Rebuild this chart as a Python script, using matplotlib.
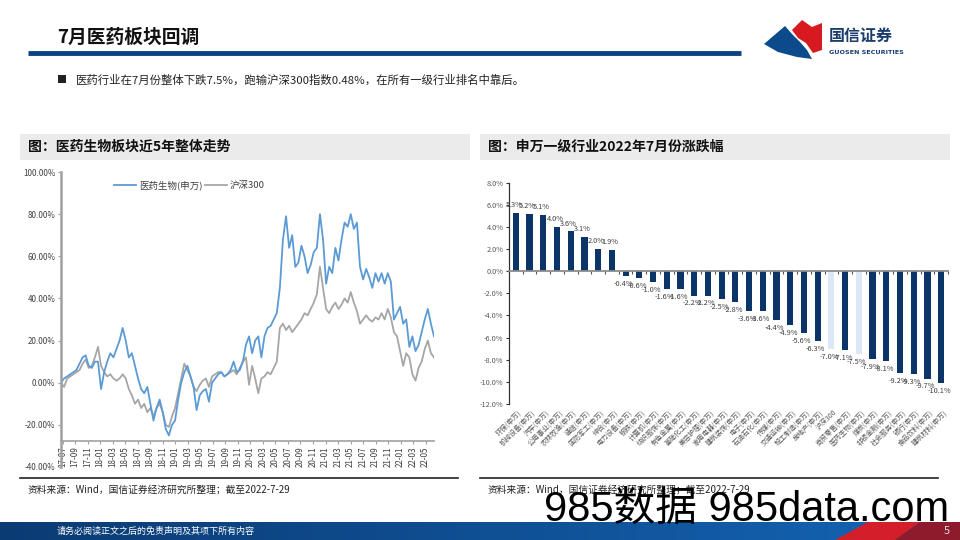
import numpy as np
import matplotlib
matplotlib.use('Agg')
import matplotlib.pyplot as plt
from matplotlib.patches import Rectangle, Polygon
from matplotlib.lines import Line2D

plt.rcParams['font.family'] = ['Noto Sans CJK SC', 'DejaVu Sans']
plt.rcParams['axes.unicode_minus'] = False

# ---- 左图：医药生物 vs 沪深300（半月采样，%）----
yiyao = [0, 2, 3, 4, 5, 6, 9, 12, 13, 8, 7, 10, 10, -3, 5, 10, 14, 12, 16, 20,
         26, 20, 12, 14, 8, 2, -3, -5, -2, -10, -18, -12, -8, -14, -22, -25, -20, -18, -8, 0,
         5, 8, 3, -2, -13, -6, -4, -3, -9, 0, 2, 4, 5, 3, 4, 6, 10, 5, 6, 10,
         18, 22, 14, 20, 22, 12, 22, 26, 27, 30, 33, 45, 68, 79, 64, 70, 55, 57, 65, 60,
         52, 56, 62, 64, 80, 68, 47, 55, 52, 64, 58, 68, 76, 74, 80, 73, 76, 55, 49, 54,
         50, 45, 52, 48, 52, 47, 52, 48, 30, 33, 36, 28, 30, 17, 22, 15, 18, 24, 30, 35,
         28, 22]
hs300 = [0, -2, 2, 3, 4, 5, 6, 9, 11, 7, 8, 12, 17, 8, 5, 3, 4, 2, 1, 2,
         4, 2, -3, -6, -10, -8, -12, -10, -14, -12, -16, -12, -10, -14, -20, -21, -16, -12, -5, 2,
         9, 6, 3, -2, -4, -1, 1, 2, -2, 3, 4, 5, 5, 3, 4, 5, 6, 4, 7, 10,
         12, -1, 8, 2, -5, 2, 3, 5, 4, 7, 10, 26, 28, 25, 27, 24, 26, 28, 30, 33,
         32, 35, 38, 42, 55, 45, 35, 33, 36, 38, 35, 37, 40, 38, 43, 38, 34, 28, 30, 32,
         30, 29, 31, 30, 33, 30, 35, 31, 24, 22, 15, 8, 14, 12, 4, 1, 7, 10, 16, 20,
         14, 12]
month_labels = ['17-07', '17-09', '17-11', '18-01', '18-03', '18-05', '18-07', '18-09',
                '18-11', '19-01', '19-03', '19-05', '19-07', '19-09', '19-11', '20-01',
                '20-03', '20-05', '20-07', '20-09', '20-11', '21-01', '21-03', '21-05',
                '21-07', '21-09', '21-11', '22-01', '22-03', '22-05']

# ---- 右图：申万一级行业7月涨跌幅（%）----
hangye = ['环保(申万)', '机械设备(申万)', '汽车(申万)', '公用事业(申万)', '农林牧渔(申万)',
          '通信(申万)', '国防军工(申万)', '综合(申万)', '电力设备(申万)', '钢铁(申万)',
          '计算机(申万)', '纺织服饰(申万)', '有色金属(申万)', '基础化工(申万)', '美容护理(申万)',
          '家用电器(申万)', '建筑装饰(申万)', '电子(申万)', '石油石化(申万)', '传媒(申万)',
          '交通运输(申万)', '轻工制造(申万)', '房地产(申万)', '沪深300', '商贸零售(申万)',
          '医药生物(申万)', '煤炭(申万)', '非银金融(申万)', '社会服务(申万)', '银行(申万)',
          '食品饮料(申万)', '建筑材料(申万)']
zhangdie = [5.3, 5.2, 5.1, 4.0, 3.6, 3.1, 2.0, 1.9, -0.4, -0.6, -1.0, -1.6, -1.6, -2.2, -2.2,
            -2.5, -2.8, -3.6, -3.6, -4.4, -4.9, -5.6, -6.3, -7.0, -7.1, -7.5, -7.9, -8.1,
            -9.2, -9.3, -9.7, -10.1]
highlight = ['沪深300', '医药生物(申万)']

NAVY = '#0b3568'
BLUE_LINE = '#5b9bd5'
GRAY_LINE = '#a6a6a6'
TXT = '#404040'

fig = plt.figure(figsize=(9.6, 5.4), dpi=100)

# 背景层：像素坐标
bg = fig.add_axes([0, 0, 1, 1])
bg.set_xlim(0, 960)
bg.set_ylim(540, 0)
bg.axis('off')

# 标题
bg.text(57, 37, '7月医药板块回调', fontsize=13.5, fontweight='bold', color='#111111',
        va='center', ha='left')
bg.plot([28, 741], [53, 53], color='#0b4384', lw=3.5, solid_capstyle='butt')

# logo
bg.add_patch(Polygon([(792, 30), (802, 20), (812, 27), (822, 23), (822, 50), (813, 53),
                      (806, 43), (798, 38)], closed=True, color='#d71920', lw=0))
bg.add_patch(Polygon([(764, 44), (785, 26), (792, 34), (800, 42), (807, 50), (812, 59),
                      (797, 57), (778, 52)], closed=True, color='#0d4a8c', lw=0))
bg.text(829, 36, '国信证券', fontsize=11.5, fontweight='bold', color='#1a3d6e',
        va='center', ha='left')
bg.text(829, 53, 'GUOSEN SECURITIES', fontsize=4.6, fontweight='bold', color='#1a3d6e',
        va='center', ha='left', family=['DejaVu Sans'])

# 要点
bg.add_patch(Rectangle((58, 75), 8, 8, color='#222222', lw=0))
bg.text(76, 80, '医药行业在7月份整体下跌7.5%，跑输沪深300指数0.48%，在所有一级行业排名中靠后。',
        fontsize=8.2, color='#222222', va='center', ha='left')

# 图标题栏
for x0, x1, t in [(20, 470, '图：医药生物板块近5年整体走势'),
                  (480, 950, '图：申万一级行业2022年7月份涨跌幅')]:
    bg.add_patch(Rectangle((x0, 134), x1 - x0, 26, color='#ebebeb', lw=0))
    bg.text(x0 + 8, 147, t, fontsize=10, fontweight='bold', color='#111111',
            va='center', ha='left')
    bg.plot([x0, x1 - 12], [478, 478], color='#222222', lw=1.2)
    bg.text(x0 + 8, 490, '资料来源：Wind，国信证券经济研究所整理；截至2022-7-29',
            fontsize=7, color='#222222', va='center', ha='left')

# 页脚
grad = np.linspace(0, 1, 256).reshape(1, -1)
cmap = matplotlib.colors.LinearSegmentedColormap.from_list('ft', ['#0b3b73', '#0f4f93', '#1565b5'])
bg.imshow(grad, extent=[0, 960, 540, 522], aspect='auto', cmap=cmap, zorder=1)
bg.add_patch(Polygon([(835, 540), (868, 522), (920, 522), (895, 540)], closed=True,
                     color='#d41f2b', lw=0, zorder=2))
bg.add_patch(Polygon([(895, 540), (920, 522), (960, 522), (960, 540)], closed=True,
                     color='#8e1b2c', lw=0, zorder=2))
bg.text(57, 531, '请务必阅读正文之后的免责声明及其项下所有内容', fontsize=6.5, color='white',
        va='center', ha='left', zorder=3)
bg.text(944, 531, '5', fontsize=8, color='#dddddd', va='center', ha='left', zorder=3)
bg.set_xlim(0, 960)
bg.set_ylim(540, 0)

# 水印
bg.text(544, 510, '985数据 985data.com', fontsize=30, color='#000000',
        va='center', ha='left', zorder=5, family=['Liberation Sans', 'Noto Sans CJK SC'])

# ---- 左图 ----
ax1 = fig.add_axes([61 / 960, 1 - 467 / 540, (434 - 61) / 960, (467 - 172) / 540])
ax1.patch.set_alpha(0)
for s in ['top', 'right']:
    ax1.spines[s].set_visible(False)
ax1.spines['bottom'].set_position(('data', -27.5))
ax1.spines['left'].set_color('#a0a0a0')
ax1.spines['left'].set_linewidth(1.8)
ax1.spines['bottom'].set_color('#a0a0a0')
ax1.spines['bottom'].set_linewidth(1.2)
x = np.arange(len(yiyao))
ax1.plot(x, hs300, color=GRAY_LINE, lw=1.3)
ax1.plot(x, yiyao, color=BLUE_LINE, lw=1.3)
ax1.set_xlim(0, len(yiyao) - 1)
ax1.set_ylim(-40, 100)
ax1.set_yticks(np.arange(-40, 101, 20))
ax1.set_yticklabels([f'{v:.2f}%' for v in np.arange(-40, 101, 20)], fontsize=5.8, color=TXT)
tick_pos = np.linspace(0.5, 118.3, len(month_labels))
ax1.set_xticks(tick_pos)
ax1.set_xticklabels(month_labels, rotation=90, fontsize=5.8, color=TXT)
ax1.tick_params(axis='both', length=2.5, width=0.8, color='#a0a0a0', pad=1.5)
ax1.legend([Line2D([], [], color=BLUE_LINE, lw=1.3), Line2D([], [], color=GRAY_LINE, lw=1.3)],
           ['医药生物(申万)', '沪深300'], loc='upper left', bbox_to_anchor=(0.12, 1.0),
           ncol=2, frameon=False, fontsize=6.8, handlelength=2.3, handletextpad=0.3,
           columnspacing=0.3, labelcolor=TXT)

# ---- 右图 ----
ax2 = fig.add_axes([509 / 960, 1 - 404 / 540, (948 - 509) / 960, (404 - 182.7) / 540])
ax2.patch.set_alpha(0)
for s in ['top', 'right']:
    ax2.spines[s].set_visible(False)
ax2.spines['bottom'].set_position(('data', 0))
ax2.spines['left'].set_color('#333333')
ax2.spines['left'].set_linewidth(0.9)
ax2.spines['bottom'].set_color('#8c8c8c')
ax2.spines['bottom'].set_linewidth(1.3)
ax2.spines['bottom'].set_zorder(3)
pos = np.arange(len(hangye))
colors = ['#dce8f5' if h in highlight else NAVY for h in hangye]
ax2.bar(pos, zhangdie, width=0.45, color=colors, zorder=2)
ax2.set_xlim(-0.5, len(hangye) - 0.5)
ax2.set_ylim(-12, 8)
ax2.set_yticks(np.arange(-12, 9, 2))
ax2.set_yticklabels([f'{v:.1f}%' for v in np.arange(-12, 9, 2)], fontsize=5.3, color='#595959')
ax2.set_xticks(pos + 0.5)
ax2.set_xticklabels([])
ax2.tick_params(axis='x', length=2.5, width=0.8, color='#555555', direction='out')
ax2.tick_params(axis='y', length=2.5, width=0.8, color='#333333', pad=1.5)
for i, v in enumerate(zhangdie):
    off = 0.35 if v > 0 else -0.35
    ax2.text(i - 0.15, v + off, f'{v:.1f}%', fontsize=5.3, color='#404040',
             ha='center', va='bottom' if v > 0 else 'top')
    ax2.text(i + 0.15, -12.4, hangye[i], fontsize=5, color='#595959', rotation=45,
             ha='right', va='top', rotation_mode='anchor')

fig.savefig('out.png', dpi=100)
